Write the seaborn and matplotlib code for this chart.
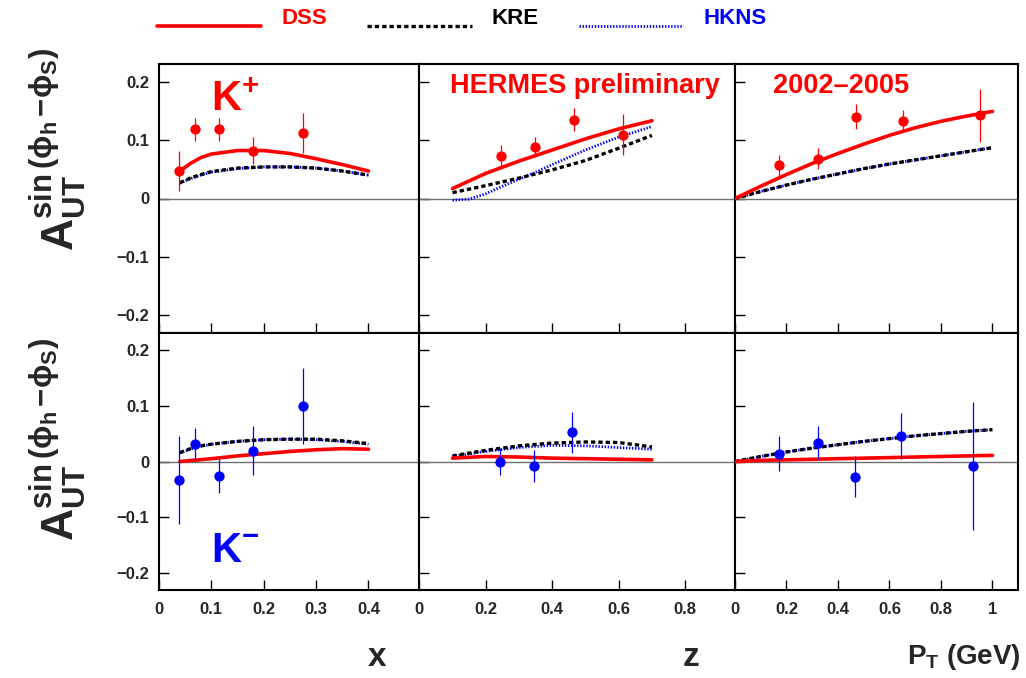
import numpy as np
import pandas as pd
import matplotlib
matplotlib.use("Agg")
import matplotlib.pyplot as plt
import seaborn as sns
from matplotlib.lines import Line2D
from matplotlib.legend_handler import HandlerLine2D
from matplotlib.ticker import FixedLocator

# ---------------- data ----------------
# K+ data points
kp_x_pts = [0.038, 0.068, 0.114, 0.179, 0.275]
kp_x_val = [0.047, 0.118, 0.118, 0.082, 0.112]
kp_x_err = [0.035, 0.020, 0.020, 0.023, 0.035]
kp_z_pts = [0.247, 0.347, 0.466, 0.613]
kp_z_val = [0.072, 0.088, 0.135, 0.109]
kp_z_err = [0.019, 0.017, 0.019, 0.035]
kp_pt_pts = [0.172, 0.322, 0.470, 0.652, 0.950]
kp_pt_val = [0.057, 0.068, 0.140, 0.132, 0.142]
kp_pt_err = [0.018, 0.018, 0.022, 0.019, 0.046]

# K- data points
km_x_pts = [0.038, 0.068, 0.114, 0.179, 0.275]
km_x_val = [-0.033, 0.031, -0.026, 0.019, 0.099]
km_x_err = [0.079, 0.029, 0.031, 0.044, 0.068]
km_z_pts = [0.244, 0.346, 0.460]
km_z_val = [0.000, -0.008, 0.052]
km_z_err = [0.024, 0.029, 0.036]
km_pt_pts = [0.170, 0.322, 0.467, 0.645, 0.923]
km_pt_val = [0.014, 0.034, -0.027, 0.045, -0.008]
km_pt_err = [0.031, 0.030, 0.037, 0.041, 0.114]

# model curves
grid_x = [0.04, 0.06, 0.08, 0.10, 0.15, 0.20, 0.25, 0.30, 0.35, 0.40]
grid_x_dss_km = [0.04, 0.10, 0.15, 0.20, 0.25, 0.30, 0.35, 0.40]
grid_z = [0.1, 0.2, 0.3, 0.4, 0.5, 0.6, 0.7]
grid_z_hkns = [0.10, 0.15, 0.20, 0.25, 0.30, 0.35, 0.40, 0.50, 0.60, 0.70]
grid_pt = [0.0, 0.1, 0.2, 0.3, 0.4, 0.5, 0.6, 0.7, 0.8, 0.9, 1.0]

dss_kp_x = [0.047, 0.060, 0.070, 0.076, 0.082, 0.082, 0.077, 0.068, 0.058, 0.047]
kre_kp_x = [0.027, 0.035, 0.041, 0.046, 0.052, 0.054, 0.054, 0.052, 0.047, 0.040]
hkns_kp_x = [0.026, 0.034, 0.040, 0.045, 0.051, 0.054, 0.054, 0.052, 0.047, 0.040]
dss_kp_z = [0.017, 0.043, 0.064, 0.083, 0.102, 0.119, 0.133]
kre_kp_z = [0.010, 0.022, 0.035, 0.049, 0.065, 0.086, 0.108]
hkns_kp_z = [-0.003, -0.001, 0.008, 0.021, 0.033, 0.045, 0.058, 0.083, 0.105, 0.123]
dss_kp_pt = [0.0, 0.021, 0.041, 0.060, 0.077, 0.093, 0.108, 0.121, 0.132, 0.141, 0.149]
kre_kp_pt = [0.0, 0.012, 0.023, 0.033, 0.042, 0.051, 0.059, 0.066, 0.073, 0.080, 0.087]
hkns_kp_pt = [0.0, 0.012, 0.023, 0.033, 0.042, 0.051, 0.059, 0.066, 0.073, 0.080, 0.087]

dss_km_x = [0.000, 0.005, 0.010, 0.014, 0.018, 0.021, 0.023, 0.022]
kre_km_x = [0.016, 0.023, 0.028, 0.031, 0.036, 0.039, 0.040, 0.040, 0.037, 0.032]
hkns_km_x = [0.015, 0.022, 0.027, 0.031, 0.036, 0.039, 0.040, 0.039, 0.036, 0.031]
dss_km_z = [0.006, 0.009, 0.008, 0.006, 0.005, 0.004, 0.003]
kre_km_z = [0.010, 0.020, 0.028, 0.033, 0.035, 0.034, 0.026]
hkns_km_z = [0.009, 0.018, 0.025, 0.029, 0.028, 0.025, 0.022]
dss_km_pt = [0.0, 0.002, 0.003, 0.004, 0.005, 0.006, 0.007, 0.008, 0.009, 0.010, 0.011]
kre_km_pt = [0.0, 0.009, 0.017, 0.024, 0.030, 0.036, 0.041, 0.046, 0.050, 0.054, 0.057]
hkns_km_pt = [0.0, 0.009, 0.017, 0.024, 0.030, 0.036, 0.041, 0.046, 0.050, 0.054, 0.057]

y_ticks = [-0.2, -0.1, 0.0, 0.1, 0.2]
y_tick_labels = ["\u22120.2", "\u22120.1", "0", "0.1", "0.2"]
x_ticks_x = [0.0, 0.1, 0.2, 0.3, 0.4]
x_labels_x = ["0", "0.1", "0.2", "0.3", "0.4"]
x_ticks_z = [0.0, 0.2, 0.4, 0.6, 0.8]
x_labels_z = ["0", "0.2", "0.4", "0.6", "0.8"]
x_ticks_pt = [0.0, 0.2, 0.4, 0.6, 0.8, 1.0]
x_labels_pt = ["0", "0.2", "0.4", "0.6", "0.8", "1"]

legend_labels = ["DSS", "KRE", "HKNS"]

# ---------------- style ----------------
sns.set_theme(style="white")
plt.rcParams["font.family"] = ["Liberation Sans", "DejaVu Sans"]
plt.rcParams["font.weight"] = "bold"
plt.rcParams["mathtext.fontset"] = "custom"
plt.rcParams["mathtext.rm"] = "Liberation Sans:bold"
plt.rcParams["mathtext.bf"] = "Liberation Sans:bold"
plt.rcParams["mathtext.it"] = "Liberation Sans:bold"
plt.rcParams["axes.unicode_minus"] = True

RED = "#ff0000"
BLUE = "#0000ff"
BLACK = "#000000"

DSS_STYLE = dict(color=RED, linewidth=2.6, linestyle="-")
KRE_STYLE = dict(color=BLACK, linewidth=2.4, linestyle=(0, (1.3, 0.9)))
HKNS_STYLE = dict(color=BLUE, linewidth=2.0, linestyle=(0, (0.5, 0.6)))

W, H = 1026, 678
fig = plt.figure(figsize=(W / 100, H / 100), dpi=100)

col_px = [(159, 419.3), (419.3, 735.0), (735.0, 1017.7)]
row_px = [(64, 333), (333, 590)]
xlims = [(0.0, 0.497), (0.0, 0.95), (0.0, 1.098)]
ylim = (-0.23, 0.23)

def add_ax(c, r):
    x0, x1 = col_px[c]
    y0, y1 = row_px[r]
    return fig.add_axes([x0 / W, 1 - y1 / H, (x1 - x0) / W, (y1 - y0) / H])

axes = [[add_ax(c, r) for c in range(3)] for r in range(2)]

panels = {
    (0, 0): (grid_x, dss_kp_x, grid_x, kre_kp_x, grid_x, hkns_kp_x, kp_x_pts, kp_x_val, kp_x_err, RED),
    (0, 1): (grid_z, dss_kp_z, grid_z, kre_kp_z, grid_z_hkns, hkns_kp_z, kp_z_pts, kp_z_val, kp_z_err, RED),
    (0, 2): (grid_pt, dss_kp_pt, grid_pt, kre_kp_pt, grid_pt, hkns_kp_pt, kp_pt_pts, kp_pt_val, kp_pt_err, RED),
    (1, 0): (grid_x_dss_km, dss_km_x, grid_x, kre_km_x, grid_x, hkns_km_x, km_x_pts, km_x_val, km_x_err, BLUE),
    (1, 1): (grid_z, dss_km_z, grid_z, kre_km_z, grid_z, hkns_km_z, km_z_pts, km_z_val, km_z_err, BLUE),
    (1, 2): (grid_pt, dss_km_pt, grid_pt, kre_km_pt, grid_pt, hkns_km_pt, km_pt_pts, km_pt_val, km_pt_err, BLUE),
}
xticks = [(x_ticks_x, x_labels_x), (x_ticks_z, x_labels_z), (x_ticks_pt, x_labels_pt)]

for (r, c), (dx, dy, kx, ky, hx, hy, px, pv, pe, pc) in panels.items():
    ax = axes[r][c]
    ax.axhline(0, color="#707070", linewidth=1.0, zorder=1)
    sns.lineplot(x=hx, y=hy, ax=ax, estimator=None, sort=False, zorder=2, **HKNS_STYLE)
    sns.lineplot(x=kx, y=ky, ax=ax, estimator=None, sort=False, zorder=3, **KRE_STYLE)
    sns.lineplot(x=dx, y=dy, ax=ax, estimator=None, sort=False, zorder=4, **DSS_STYLE)
    ax.errorbar(px, pv, yerr=pe, fmt="none", ecolor=pc, elinewidth=0.9, capsize=0, zorder=5)
    sns.scatterplot(x=px, y=pv, ax=ax, color=pc, s=55, edgecolor=pc, linewidth=0, zorder=6)
    ax.set_xlim(*xlims[c])
    ax.set_ylim(*ylim)
    ax.set_xlabel("")
    ax.set_ylabel("")
    ax.xaxis.set_major_locator(FixedLocator(xticks[c][0]))
    ax.yaxis.set_major_locator(FixedLocator(y_ticks))
    ax.tick_params(axis="both", which="major", direction="in", length=7, width=1.0,
                   color="black", labelsize=12, bottom=True, left=True, top=False, right=False)
    ax.tick_params(axis="x", pad=9)
    ax.tick_params(axis="y", pad=7)
    if r == 1:
        ax.set_xticklabels(xticks[c][1], fontweight="bold")
    else:
        ax.set_xticklabels([])
    if c == 0:
        ax.set_yticklabels(y_tick_labels, fontweight="bold")
    else:
        ax.set_yticklabels([])
    for s in ax.spines.values():
        s.set_color("black")
        s.set_linewidth(1.5)
    ax.set_facecolor("white")

# panel annotations
axes[0][0].text(0.100, 0.150, r"$\mathbf{K^{+}}$", color=RED, fontsize=30, ha="left", va="baseline")
axes[1][0].text(0.100, -0.180, r"$\mathbf{K^{-}}$", color=BLUE, fontsize=30, ha="left", va="baseline")
axes[0][1].text(0.091, 0.180, "HERMES preliminary", color=RED, fontsize=19.5, fontweight="bold",
                ha="left", va="baseline")
axes[0][2].text(0.146, 0.180, "2002\u20132005", color=RED, fontsize=19.5, fontweight="bold",
                ha="left", va="baseline")

# y labels
ylab = r"$\mathbf{A}_{\mathbf{UT}}^{\mathbf{sin\,(\phi_{h}\,{-}\phi_{S})}}$"
for ytop in (48, 338):
    fig.text(58 / W, 1 - ytop / H, ylab, rotation=90, fontsize=32, ha="center", va="top")

# x labels
fig.text(376.7 / W, 1 - 666 / H, "x", fontsize=24, fontweight="bold", ha="center", va="baseline")
fig.text(690.5 / W, 1 - 666 / H, "z", fontsize=24, fontweight="bold", ha="center", va="baseline")
fig.text(1021 / W, 1 - 664 / H, r"$\mathbf{P_{T}}$ (GeV)", fontsize=20, fontweight="bold",
         ha="right", va="baseline")


# legend (sample lines sit slightly below the text centre, as in the original)
class LowLine(HandlerLine2D):
    def create_artists(self, legend, orig_handle, xdescent, ydescent, width, height, fontsize, trans):
        arts = super().create_artists(legend, orig_handle, xdescent, ydescent, width, height,
                                      fontsize, trans)
        for a in arts:
            yd = np.asarray(a.get_ydata(), dtype=float)
            a.set_ydata(yd - 0.40 * fontsize)
        return arts


handles = [Line2D([], [], **DSS_STYLE), Line2D([], [], **KRE_STYLE), Line2D([], [], **HKNS_STYLE)]
leg = fig.legend(handles, legend_labels, loc="center left", bbox_to_anchor=(157 / W, 1 - 19 / H),
                 ncol=3, frameon=False, handlelength=4.7, handletextpad=0.9, columnspacing=1.8,
                 borderpad=0, borderaxespad=0, prop={"size": 16, "weight": "bold"},
                 handler_map={Line2D: LowLine()})
for txt, col in zip(leg.get_texts(), [RED, BLACK, BLUE]):
    txt.set_color(col)

fig.savefig("out.png", dpi=100, facecolor="white")
